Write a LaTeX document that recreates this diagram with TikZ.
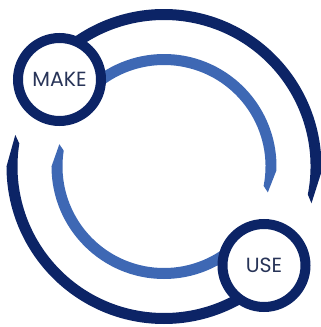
\documentclass[tikz,border=0pt]{standalone}
\usepackage{fontspec}
\setmainfont{Poppins}
\usetikzlibrary{positioning}
\definecolor{navy}{RGB}{12,36,102}
\definecolor{midblue}{RGB}{62,104,180}
\definecolor{labelgray}{RGB}{40,52,88}

\begin{document}
\begin{tikzpicture}[
    stage/.style={circle, draw=navy, fill=white, line width=10pt, minimum size=83pt, inner sep=0pt, text=labelgray, font=\fontsize{20.5}{24}\selectfont},
    outerband/.style={fill=navy},
    innerband/.style={fill=midblue}
]
\useasboundingbox (-164pt,-160.5pt) rectangle (157pt,166.5pt);
\clip (-164pt,-160.5pt) rectangle (157pt,166.5pt);

% Outer bands
\fill[outerband] (130:157.5pt) arc[start angle=130, end angle=-2, radius=157.5pt] -- (-14:152pt) -- (-11:146.5pt) arc[start angle=-11, end angle=130, radius=146.5pt] -- cycle;
\fill[outerband] (168:152pt) -- (180:157.5pt) arc[start angle=180, end angle=310, radius=157.5pt] -- (310:146.5pt) arc[start angle=310, end angle=171, radius=146.5pt] -- cycle;

% Inner bands
\fill[innerband] (141:112.5pt) arc[start angle=141, end angle=-2, radius=112.5pt] -- (-14:107pt) -- (-11:101.5pt) arc[start angle=-11, end angle=141, radius=101.5pt] -- cycle;
\fill[innerband] (168:107pt) -- (180:112.5pt) arc[start angle=180, end angle=315, radius=112.5pt] -- (315:101.5pt) arc[start angle=315, end angle=171, radius=101.5pt] -- cycle;

% Stage nodes
\node[stage] (make) at (-104.5pt,87pt) {MAKE};
\node[stage] (use) at (100pt,-99pt) {USE};

\end{tikzpicture}
\end{document}
